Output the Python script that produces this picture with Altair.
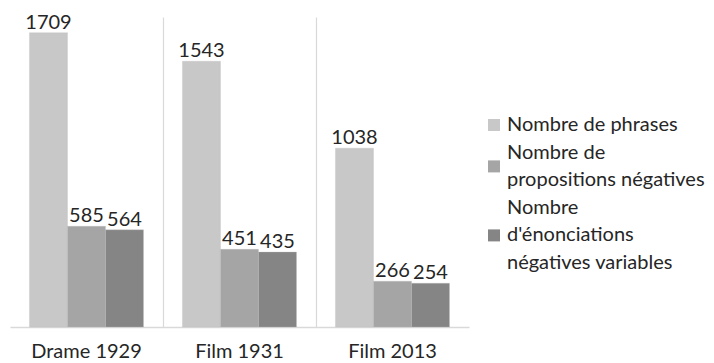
import altair as alt
import pandas as pd

# Works and their counts
films = ["Drame 1929", "Film 1931", "Film 2013"]
series = [
    "Nombre de phrases",
    "Nombre de\npropositions négatives",
    "Nombre\nd'énonciations\nnégatives variables",
]
phrases = [1709, 1543, 1038]
propositions = [585, 451, 266]
enonciations = [564, 435, 254]
colors = ["#c8c8c8", "#a5a5a5", "#858585"]

rows = []
for i, film in enumerate(films):
    for name, vals in zip(series, [phrases, propositions, enonciations]):
        rows.append({"film": film, "serie": name, "valeur": vals[i]})
df = pd.DataFrame(rows)

# Legend entries laid out line by line: first line index and block centre
leg_rows = []
line_idx = 0
for name in series:
    n = len(name.split("\n"))
    leg_rows.append({"serie": name, "first": line_idx, "center": line_idx + (n - 1) / 2})
    line_idx += n
leg_df = pd.DataFrame(leg_rows)

FONT = "Lato"
TXT = "#262626"
LINE_H = 27.6
FS = 20

color_scale = alt.Scale(domain=series, range=colors)

x = alt.X(
    "film:N",
    sort=films,
    title=None,
    scale=alt.Scale(paddingInner=0, paddingOuter=0),
    axis=alt.Axis(
        labelFont=FONT,
        labelFontSize=FS,
        labelColor=TXT,
        labelPadding=14,
        labelAngle=0,
        ticks=False,
        domainColor="#d9d9d9",
        domainWidth=1.5,
        grid=True,
        gridColor="#d9d9d9",
        gridWidth=1.2,
        gridOpacity={"condition": {"test": "datum.value === 'Drame 1929'", "value": 0}, "value": 1},
        bandPosition=0,
    ),
)
xoff = alt.XOffset("serie:N", sort=series, scale=alt.Scale(paddingInner=0, paddingOuter=0.513))
y = alt.Y("valeur:Q", scale=alt.Scale(domain=[0, 1800], nice=False), axis=None)

bars = alt.Chart(df).mark_bar(stroke="#bdbdbd", strokeWidth=0.5, strokeOpacity=0.6).encode(
    x=x,
    xOffset=xoff,
    y=y,
    color=alt.Color("serie:N", sort=series, scale=color_scale, legend=None),
)

labels = alt.Chart(df).mark_text(
    baseline="alphabetic", dy=-4, font=FONT, fontSize=FS, color=TXT
).encode(x=x, xOffset=xoff, y=y, text="valeur:Q")

main = alt.layer(bars, labels).properties(width=459, height=310)

# Hand-built legend so that wrapped labels sit centred on their swatch
leg_y = alt.Scale(domain=[0, 5], range=[108, 108 + 5 * LINE_H])
swatches = alt.Chart(leg_df).mark_square(size=144, opacity=1).encode(
    x=alt.value(15),
    y=alt.Y("center:Q", scale=leg_y, axis=None),
    color=alt.Color("serie:N", sort=series, scale=color_scale, legend=None),
)
leg_text = (
    alt.Chart(leg_df)
    .transform_calculate(lines="split(datum.serie, '\\n')")
    .mark_text(align="left", baseline="middle", font=FONT, fontSize=FS, color=TXT, lineHeight=LINE_H)
    .encode(
        x=alt.value(28),
        y=alt.Y("first:Q", scale=leg_y, axis=None),
        text="lines:N",
    )
)
legend = alt.layer(swatches, leg_text).properties(width=230, height=310)

chart = (
    alt.hconcat(main, legend, spacing=10)
    .properties(background="white", padding={"left": 10, "top": 12, "right": 0, "bottom": 0})
    .configure_view(stroke="transparent", strokeWidth=0)
)

chart.save("out.html", embed_options={"renderer": "svg", "actions": False})
